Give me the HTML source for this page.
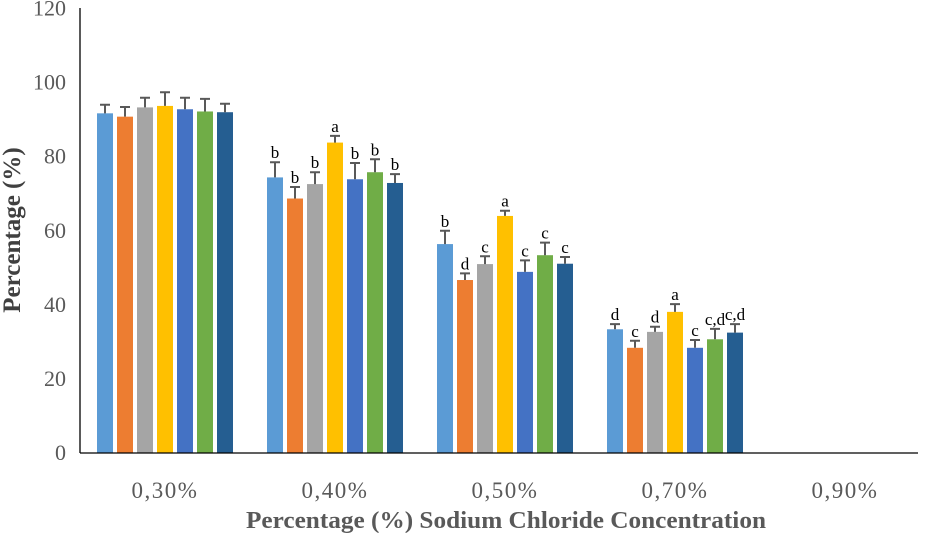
<!DOCTYPE html>
<html><head><meta charset="utf-8">
<style>
html,body{margin:0;padding:0;background:#fff;}
svg{display:block;font-family:"Liberation Serif",serif;}
</style></head>
<body>
<svg id="chart" width="932" height="533" viewBox="0 0 932 533">
  <g id="yticks"></g>
  <g id="bars"></g>
  <g id="xticks"></g>
  <line x1="80" y1="8" x2="80" y2="453" stroke="#000" stroke-width="1.3"/>
  <line x1="80" y1="453" x2="918" y2="453" stroke="#000" stroke-width="1.3"/>
  <text transform="translate(20,230) rotate(-90)" text-anchor="middle" font-size="25" font-weight="bold" fill="#404040">Percentage (%)</text>
  <text x="506" y="528" text-anchor="middle" font-size="24" font-weight="bold" fill="#595959" textLength="520" lengthAdjust="spacingAndGlyphs">Percentage (%) Sodium Chloride Concentration</text>
</svg>
<script>
const categories = ["0,30%","0,40%","0,50%","0,70%","0,90%"];
const yTicks = [0,20,40,60,80,100,120];
const s1 = [91.7,74.4,56.4,33.4,null];
const s2 = [90.8,68.7,46.7,28.4,null];
const s3 = [93.3,72.6,51.0,32.7,null];
const s4 = [93.7,83.8,64.0,38.1,null];
const s5 = [92.8,73.9,48.9,28.4,null];
const s6 = [92.2,75.8,53.4,30.7,null];
const s7 = [92.0,72.9,51.1,32.5,null];
const e1 = [2.3,4.1,3.6,1.4,null];
const e2 = [2.6,3.1,1.8,1.9,null];
const e3 = [2.6,3.2,2.1,1.4,null];
const e4 = [3.7,1.8,1.4,2.1,null];
const e5 = [3.1,4.4,3.1,2.1,null];
const e6 = [3.4,3.5,3.4,2.8,null];
const e7 = [2.3,2.4,1.8,2.3,null];
const l1 = ["","b","b","d",""];
const l2 = ["","b","d","c",""];
const l3 = ["","b","c","d",""];
const l4 = ["","a","a","a",""];
const l5 = ["","b","c","c",""];
const l6 = ["","b","c","c,d",""];
const l7 = ["","b","c","c,d",""];

const series=[s1,s2,s3,s4,s5,s6,s7];
const errs=[e1,e2,e3,e4,e5,e6,e7];
const labs=[l1,l2,l3,l4,l5,l6,l7];
const colors=["#5B9BD5","#ED7D31","#A5A5A5","#FFC000","#4472C4","#70AD47","#255E91"];
const NS="http://www.w3.org/2000/svg";
const y0=453, yTop=8.5, yMax=120;
function yScale(v){return y0-(v/yMax)*(y0-yTop);}
const band=170, x0=80;
function xCenter(i){return x0+band*(i+0.5);}
const pitch=20, bw=16;
function mk(tag,attrs,parent){const e=document.createElementNS(NS,tag);for(const k in attrs)e.setAttribute(k,attrs[k]);parent.appendChild(e);return e;}

const yt=document.getElementById('yticks');
yTicks.forEach(t=>{
  const e=mk('text',{x:66,y:yScale(t)+7,'text-anchor':'end','font-size':22,fill:'#595959'},yt);
  
  
  e.textContent=t;
});
const xt=document.getElementById('xticks');
categories.forEach((c,i)=>{
  const e=mk('text',{x:xCenter(i),y:498,'text-anchor':'middle','font-size':23,fill:'#595959','letter-spacing':1.5},xt);
  
  
  e.textContent=c;
});
const bg=document.getElementById('bars');
series.forEach((s,k)=>{
  s.forEach((v,i)=>{
    if(v==null)return;
    const cx=xCenter(i)+(k-3)*pitch;
    const r=mk('rect',{x:cx-bw/2,y:yScale(v),width:bw,height:y0-yScale(v),fill:colors[k]},bg);
    
    
    const et=yScale(v+errs[k][i]);
    const eb=mk('path',{d:`M${cx} ${yScale(v)}V${et}M${cx-5} ${et}H${cx+5}`,stroke:'#595959','stroke-width':2,fill:'none'},bg);
    
    
    const L=labs[k][i];
    if(L){
      const t=mk('text',{x:cx,y:et-4,'text-anchor':'middle','font-size':17,fill:'#000'},bg);
      
      
      t.textContent=L;
    }
  });
});
</script>
</body></html>
